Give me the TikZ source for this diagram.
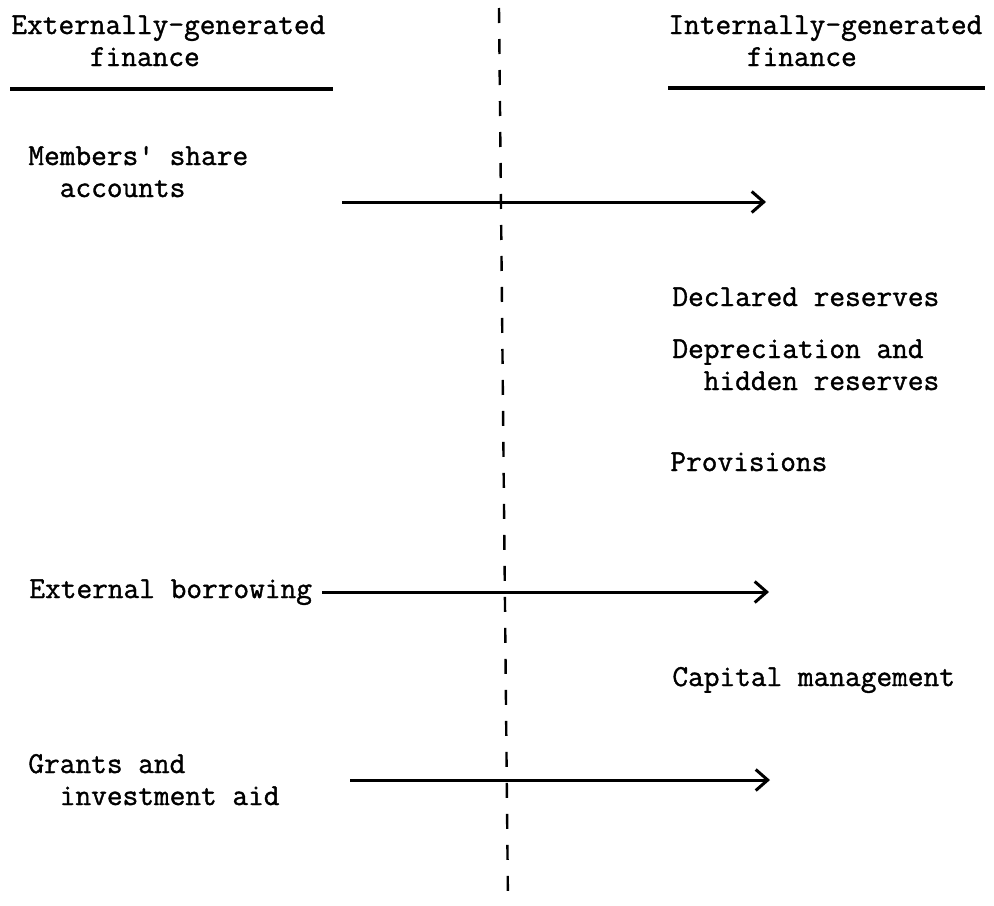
\documentclass[tikz,border=0pt]{standalone}
\usepackage{fontspec}
\setmonofont{Latin Modern Mono}[FakeBold=1.2]
\usetikzlibrary{arrows.meta}

\begin{document}
\begin{tikzpicture}[x=0.5pt,y=-0.5pt,
    lbl/.style={anchor=base west,inner sep=0pt,align=left,
      font=\ttfamily\fontsize{15.24}{16}\selectfont},
    flow/.style={line width=1.5pt,
      -{Straight Barb[length=6pt,width=10.5pt,line width=1.5pt]}},
    rule/.style={line width=1.6pt},
    divider/.style={line width=1.2pt,dash pattern=on 7.5pt off 8pt}]
    \useasboundingbox (0,0) rectangle (994,905);
    % column heads
    \node[lbl] (ext) at (11,66) {Externally-generated\\\phantom{xxxxx}finance};
    \node[lbl] (int) at (668,66) {Internally-generated\\\phantom{xxxxx}finance};
    \draw[rule] (10,89) -- (333,89);
    \draw[rule] (668,88) -- (985,88);
    % divider
    \draw[divider] (499,8) -- (508,905);
    % sources
    \node[lbl] (members) at (28,197) {Members' share\\\phantom{xx}accounts};
    \node[lbl] (declared) at (672,306) {Declared reserves};
    \node[lbl] (deprec) at (672,390) {Depreciation and\\\phantom{xx}hidden reserves};
    \node[lbl] (provisions) at (670,471) {Provisions};
    \node[lbl] (borrowing) at (29,598) {External borrowing};
    \node[lbl] (capital) at (672,686) {Capital management};
    \node[lbl] (grants) at (28,805) {Grants and\\\phantom{xx}investment aid};
    % flows
    \coordinate (m0) at (342,202);
    \coordinate (m1) at (766,202);
    \coordinate (b0) at (322,592);
    \coordinate (b1) at (769,592);
    \coordinate (g0) at (350,780);
    \coordinate (g1) at (770,780);
    \draw[flow] (m0) -- (m1);
    \draw[flow] (b0) -- (b1);
    \draw[flow] (g0) -- (g1);
  \end{tikzpicture}
\end{document}
